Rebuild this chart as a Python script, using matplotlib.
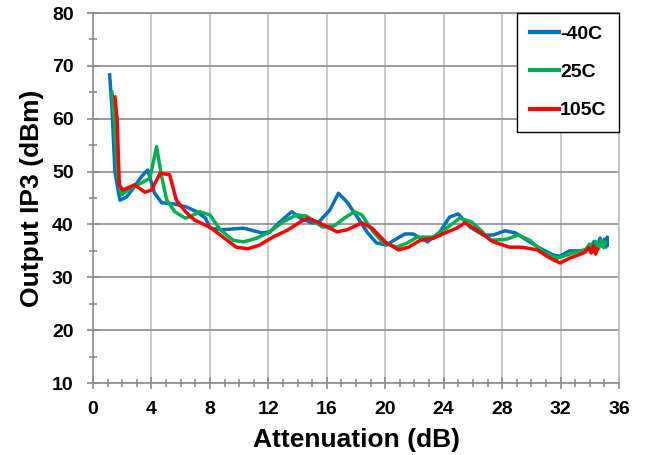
import matplotlib
matplotlib.use('Agg')
import matplotlib.pyplot as plt
from matplotlib.ticker import MultipleLocator

plt.rcParams['font.family'] = ['Liberation Sans', 'DejaVu Sans']
plt.rcParams['font.weight'] = 'bold'

# -40C
x_m40 = [1.14, 1.3, 1.5, 1.84, 2.3, 2.8, 3.3, 3.75, 4.2, 4.7, 5.5, 6.4, 7.1, 7.7,
         8.0, 8.9, 10.3, 11.55, 12.1, 12.8, 13.6, 14.2, 14.98, 15.4, 16.2, 16.8,
         17.4, 18.3, 18.8, 19.4, 20.1, 20.65, 21.35, 21.9, 22.9, 23.75, 24.4, 25.0,
         25.8, 26.7, 27.4, 28.2, 28.9, 29.7, 30.6, 31.5, 31.96, 32.6, 33.3, 33.8,
         34.1, 34.3, 34.5, 34.7, 34.85, 35.0, 35.1, 35.2, 35.2]
y_m40 = [68.3, 62.0, 50.0, 44.6, 45.2, 47.0, 49.0, 50.3, 46.0, 44.1, 43.9, 43.3, 42.4, 41.2,
         39.3, 39.0, 39.3, 38.4, 38.6, 40.5, 42.4, 41.2, 40.3, 40.3, 42.7, 45.9,
         44.2, 40.5, 38.4, 36.5, 36.1, 37.1, 38.2, 38.2, 36.7, 38.6, 41.4, 42.0,
         39.5, 38.0, 38.0, 38.8, 38.4, 37.0, 35.5, 34.2, 34.0, 35.0, 35.0, 35.2,
         35.8, 36.8, 35.6, 37.4, 35.9, 37.2, 35.7, 37.6, 36.1]

# 25C
x_25 = [1.3, 1.5, 1.7, 1.97, 2.65, 3.3, 3.9, 4.35, 4.7, 5.05, 5.6, 6.3, 6.6, 7.3, 8.0,
        8.7, 9.6, 10.3, 11.2, 12.1, 13.0, 13.95, 14.6, 15.7, 16.5, 17.2, 17.9, 18.4,
        19.1, 19.8, 20.8, 21.5, 22.2, 23.3, 24.2, 25.1, 25.9, 26.5, 27.2, 28.3, 29.1,
        29.9, 30.8, 31.75, 32.4, 33.1, 33.7, 34.0, 34.2, 34.4, 34.6, 34.8, 34.95, 35.05]
y_25 = [65.0, 58.0, 49.0, 45.6, 47.1, 47.8, 48.8, 54.7, 49.0, 44.6, 42.4, 41.2, 41.4, 42.4, 41.8,
        39.0, 37.0, 36.7, 37.4, 38.6, 40.5, 41.8, 41.6, 39.5, 39.7, 41.2, 42.4, 41.8,
        38.9, 36.7, 35.7, 36.5, 37.6, 37.6, 39.3, 41.2, 40.5, 39.0, 37.0, 37.2, 38.0,
        37.0, 34.8, 33.6, 34.2, 34.8, 35.2, 36.3, 35.0, 36.8, 35.4, 37.0, 35.6, 36.6]

# 105C
x_105 = [1.5, 1.65, 1.8, 2.04, 2.85, 3.55, 4.0, 4.6, 5.25, 5.7, 6.4, 6.97, 8.0, 8.9,
         9.8, 10.6, 11.4, 12.3, 13.3, 14.2, 14.7, 15.5, 16.7, 17.4, 18.4, 19.1, 20.0,
         20.9, 21.6, 22.4, 23.3, 24.1, 24.9, 25.45, 26.3, 27.4, 28.5, 29.3, 30.4,
         31.3, 31.96, 32.6, 33.2, 33.7, 33.9, 34.1, 34.25, 34.4, 34.5]
y_105 = [64.1, 60.0, 47.5, 46.5, 47.5, 46.1, 46.5, 49.7, 49.4, 44.6, 42.2, 40.8, 39.5, 37.6,
         35.7, 35.4, 36.1, 37.6, 38.9, 40.5, 41.2, 40.3, 38.6, 39.0, 40.3, 39.3, 36.7,
         35.2, 35.7, 37.0, 37.4, 38.4, 39.3, 40.3, 38.9, 36.7, 35.7, 35.7, 35.2,
         33.6, 32.7, 33.6, 34.2, 34.8, 35.6, 34.6, 36.0, 34.4, 35.3]

fig = plt.figure(figsize=(6.49, 4.55), dpi=100)
ax = fig.add_axes([0.1433, 0.1582, 0.8105, 0.8132])

ax.plot(x_m40, y_m40, color='#0070C0', lw=2.5, label='-40C')
ax.plot(x_25, y_25, color='#00B050', lw=2.5, label='25C')
ax.plot(x_105, y_105, color='#FF0000', lw=2.5, label='105C')

ax.set_xlim(0, 36)
ax.set_ylim(10, 80)
ax.xaxis.set_major_locator(MultipleLocator(4))
ax.xaxis.set_minor_locator(MultipleLocator(1))
ax.yaxis.set_major_locator(MultipleLocator(10))
ax.yaxis.set_minor_locator(MultipleLocator(5))

ax.grid(axis='x', which='major', color='#BFBFBF', lw=1.2)
ax.grid(axis='y', which='major', color='#8C8C8C', lw=1.2)
ax.set_axisbelow(True)

for s in ['left', 'bottom', 'top']:
    ax.spines[s].set_color('#8C8C8C')
    ax.spines[s].set_linewidth(1.2)
ax.spines['right'].set_color('#BFBFBF')
ax.spines['right'].set_linewidth(1.2)

ax.tick_params(which='both', direction='inout', color='#8C8C8C', width=1.2)
ax.tick_params(which='major', length=8, labelsize=14)
ax.tick_params(which='minor', length=6)
ax.tick_params(axis='y', which='major', pad=10)
ax.tick_params(axis='x', which='major', pad=9)
for lab in ax.get_xticklabels() + ax.get_yticklabels():
    lab.set_fontweight('bold')

ax.set_xlabel('Attenuation (dB)', fontsize=19, fontweight='bold', labelpad=7)
ax.set_ylabel('Output IP3 (dBm)', fontsize=19, fontweight='bold', labelpad=6)

leg = ax.legend(loc='upper right', bbox_to_anchor=(1.0, 1.0), borderaxespad=0,
                fancybox=False, edgecolor='black', framealpha=1,
                prop={'size': 14, 'weight': 'bold'}, handlelength=1.5,
                handletextpad=0.05, labelspacing=1.05, borderpad=0.65)
leg.get_frame().set_linewidth(1.0)
for line in leg.get_lines():
    line.set_linewidth(3)

fig.savefig('out.png', dpi=100)
